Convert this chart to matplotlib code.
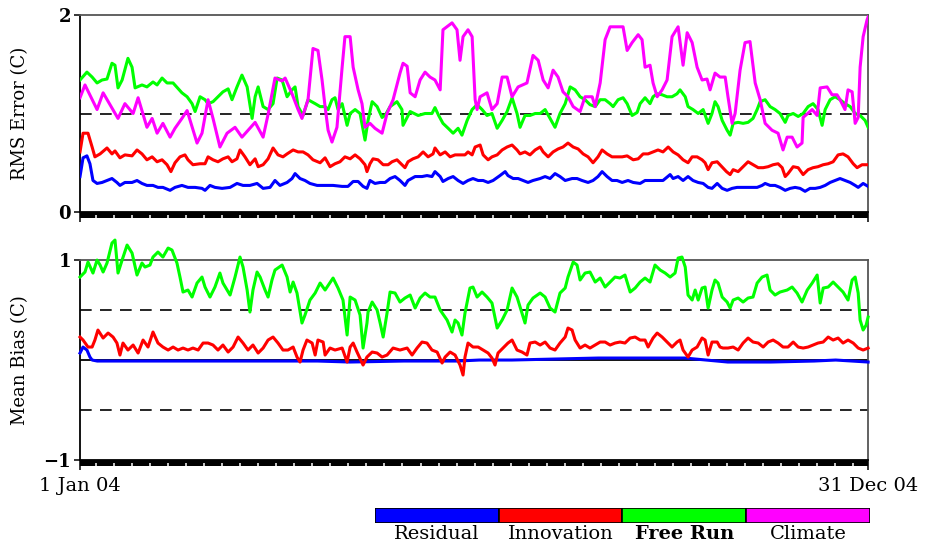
import numpy as np
import matplotlib
matplotlib.use("Agg")
import matplotlib.pyplot as plt

# ---- data (day of year 2004, 0 = 1 Jan, 365 = 31 Dec) ----
# RMS error, Climate
rms_clim_day = [0, 2.3, 7.9, 10.7, 17.6, 20.8, 24.6, 26.9, 31.0, 33.4, 35.7, 38.4, 41.7, 44.0, 47.2, 49.6,
                54.2, 56.5, 59.3, 61.6, 64.8, 68.1, 71.8, 75.0, 81.1, 84.8, 87.1, 90.3, 93.6, 95.0, 98.2,
                101.0, 102.8, 105.6, 107.9, 110.2, 112.1, 113.5, 114.9, 116.7, 119.0, 121.4, 122.7, 125.1,
                126.5, 128.8, 130.6, 132.0, 134.3, 136.6, 139.9, 142.2, 145.0, 148.2, 149.6, 151.5, 152.9,
                155.2, 157.5, 159.8, 162.1, 164.4, 166.8, 168.1, 172.3, 174.6, 176.0, 177.4, 179.7, 181.6,
                183.0, 183.9, 185.3, 188.5, 190.8, 193.2, 195.5, 197.8, 200.1, 202.9, 207.0, 209.8, 212.2,
                214.5, 216.8, 219.1, 221.4, 223.7, 226.0, 228.4, 231.6, 233.9, 237.2, 238.6, 240.9, 243.2,
                245.5, 251.5, 253.4, 255.7, 258.5, 260.3, 261.7, 264.0, 265.4, 267.3, 269.6, 271.9, 274.2,
                277.0, 279.3, 281.2, 283.5, 285.8, 288.1, 290.4, 291.8, 294.1, 296.4, 298.8, 300.1, 302.0,
                303.4, 305.7, 308.0, 310.3, 312.7, 315.0, 317.3, 320.5, 323.3, 325.6, 327.5, 329.8, 332.1,
                334.4, 334.9, 339.1, 341.4, 342.8, 346.0, 348.3, 350.6, 352.0, 354.3, 355.7, 357.6, 359.0,
                360.4, 361.3, 362.7, 364.5, 365]
rms_clim = [1.16, 1.29, 1.04, 1.21, 0.95, 1.10, 1.00, 1.16, 0.86, 0.95, 0.80, 0.90, 0.76, 0.85, 0.95, 1.03,
            0.70, 0.80, 1.14, 0.95, 0.66, 0.80, 0.86, 0.76, 0.91, 0.76, 0.99, 1.36, 1.33, 1.36, 1.20,
            1.04, 0.95, 1.14, 1.66, 1.64, 1.34, 1.07, 0.83, 0.71, 0.86, 1.47, 1.78, 1.78,
            1.47, 1.24, 1.10, 0.86, 0.90, 0.85, 0.80, 1.00, 1.14, 1.41, 1.51, 1.48, 1.21,
            1.17, 1.34, 1.42, 1.37, 1.34, 1.24, 1.85, 1.92, 1.85, 1.54, 1.78, 1.85, 1.78,
            1.14, 1.04, 1.17, 1.21, 1.04, 1.10, 1.37, 1.37, 1.17, 1.27, 1.31, 1.59, 1.54,
            1.34, 1.26, 1.44, 1.37, 1.22, 1.17, 1.07, 1.02, 1.17, 1.17, 1.07, 1.31, 1.75,
            1.88, 1.88, 1.64, 1.72, 1.80, 1.75, 1.47, 1.49, 1.31, 1.17, 1.24, 1.34, 1.78,
            1.88, 1.49, 1.82, 1.72, 1.47, 1.34, 1.35, 1.24, 1.41, 1.37, 1.37, 1.17, 0.90,
            1.00, 1.44, 1.72, 1.73, 1.31, 1.14, 0.90, 0.83, 0.80, 0.63, 0.76, 0.76, 0.66,
            0.70, 0.96, 1.04, 0.98, 1.26, 1.27, 1.19, 1.19, 1.14, 1.04, 1.24, 1.22, 0.90,
            0.96, 1.47, 1.78, 1.95, 1.98]

# RMS error, Free Run
rms_free_day = [0, 3.2, 5.6, 7.9, 10.2, 12.5, 14.8, 16.2, 17.6, 19.5, 22.2, 24.1, 25.5, 28.7, 31.0, 33.8,
                35.7, 38.0, 40.3, 43.1, 47.2, 49.6, 51.9, 53.3, 55.6, 57.9, 59.3, 61.6, 63.9, 66.2, 68.6,
                70.4, 72.7, 75.0, 77.4, 79.7, 81.1, 82.5, 84.8, 87.1, 89.4, 91.3, 93.6, 95.9, 98.2, 99.6,
                101.0, 103.3, 105.6, 108.9, 111.2, 113.5, 114.9, 116.7, 118.1, 119.5, 121.4, 123.7, 125.1,
                127.4, 129.7, 132.0, 133.4, 135.3, 137.6, 139.9, 141.3, 143.6, 146.8, 149.1, 149.6, 152.9,
                156.6, 159.8, 163.0, 164.4, 166.1, 168.1, 170.5, 172.8, 175.1, 176.9, 179.3, 181.6, 183.9,
                186.2, 188.5, 190.8, 193.2, 195.5, 197.8, 200.1, 202.4, 203.8, 206.1, 208.4, 210.8, 213.1,
                215.4, 217.7, 220.0, 222.3, 224.7, 227.0, 229.3, 231.6, 233.9, 236.2, 238.6, 240.9, 243.2,
                245.5, 246.9, 249.2, 251.5, 253.4, 255.7, 258.0, 259.4, 261.7, 264.0, 265.4, 267.3, 269.6,
                271.9, 274.2, 276.5, 277.9, 280.3, 281.6, 283.9, 286.3, 288.6, 290.9, 292.7, 294.1, 295.5,
                297.4, 299.7, 301.1, 302.5, 304.8, 307.1, 309.4, 311.7, 313.6, 315.0, 317.3, 319.6, 321.9,
                324.2, 326.6, 327.9, 330.3, 332.6, 334.9, 337.2, 339.5, 341.8, 343.7, 345.1, 347.4, 349.7,
                352.0, 354.3, 356.7, 359.0, 361.3, 363.6, 365]
rms_free = [1.34, 1.42, 1.37, 1.31, 1.34, 1.35, 1.51, 1.49, 1.26, 1.34, 1.56, 1.47, 1.26, 1.29, 1.27, 1.32,
            1.29, 1.36, 1.31, 1.31, 1.21, 1.17, 1.10, 1.02, 1.17, 1.14, 1.10, 1.12, 1.17, 1.22, 1.25,
            1.14, 1.27, 1.39, 1.27, 0.95, 1.17, 1.27, 1.07, 1.04, 1.10, 1.36, 1.34, 1.17, 1.24, 1.27,
            1.07, 0.98, 1.14, 1.10, 1.07, 1.07, 1.04, 1.14, 1.16, 1.04, 1.10, 0.88, 1.00,
            1.04, 1.00, 0.73, 0.93, 1.12, 1.07, 0.96, 0.98, 1.07, 1.12, 1.04, 0.88, 1.02,
            0.98, 1.00, 1.00, 1.06, 0.98, 0.90, 0.85, 0.80, 0.85, 0.78, 0.93, 1.04, 1.09,
            1.04, 0.98, 1.00, 0.85, 0.93, 1.02, 1.16, 1.00, 0.86, 0.98, 0.98, 1.00, 1.00,
            1.04, 0.95, 0.86, 1.00, 1.10, 1.27, 1.24, 1.17, 1.14, 1.09, 1.07, 1.14, 1.14,
            1.10, 1.07, 1.14, 1.16, 1.10, 0.98, 1.01, 1.10, 1.16, 1.10, 1.17, 1.20, 1.19,
            1.17, 1.17, 1.20, 1.24, 1.17, 1.07, 1.04, 1.00, 1.04, 0.90, 1.00, 1.12, 1.07,
            0.93, 0.83, 0.78, 0.90, 0.91, 0.90, 0.91, 0.95, 1.04, 1.12, 1.14, 1.07, 1.04,
            1.00, 0.91, 0.98, 1.00, 0.97, 1.00, 1.07, 1.10, 1.04, 0.88, 1.04, 1.14, 1.17,
            1.14, 1.10, 1.07, 1.00, 0.98, 0.93, 0.86]

# RMS error, Innovation
rms_innov_day = [0, 1.4, 3.7, 5.6, 6.9, 9.3, 12.5, 14.8, 16.2, 18.5, 20.8, 24.1, 26.4, 28.7, 31.0, 33.4,
                 35.7, 38.0, 40.3, 42.1, 44.0, 46.3, 48.6, 50.0, 52.3, 55.6, 57.9, 59.3, 61.6, 63.9, 66.2,
                 68.6, 70.4, 72.7, 74.1, 76.4, 78.7, 81.1, 82.5, 84.8, 87.1, 89.4, 91.7, 94.0, 95.9, 98.7,
                 101.0, 103.3, 105.6, 107.9, 111.2, 113.5, 115.8, 118.1, 120.4, 122.7, 125.1, 127.4, 129.7,
                 132.0, 132.9, 134.3, 135.7, 138.0, 140.4, 142.7, 144.5, 146.8, 149.1, 150.5, 151.9, 154.2,
                 156.6, 158.9, 161.2, 163.5, 164.4, 166.8, 169.1, 171.4, 173.7, 176.0, 178.3, 179.7, 181.6,
                 183.0, 185.3, 186.7, 189.0, 190.8, 193.2, 195.5, 197.8, 200.1, 202.4, 203.8, 206.1, 208.4,
                 210.8, 213.1, 214.5, 216.8, 219.1, 221.4, 223.7, 226.0, 228.4, 230.7, 233.0, 235.3, 237.6,
                 239.9, 241.8, 244.1, 246.4, 248.7, 251.1, 253.4, 256.2, 258.5, 260.8, 263.1, 265.4, 267.7,
                 270.0, 272.4, 274.7, 277.0, 279.3, 281.6, 283.5, 285.8, 288.1, 289.5, 290.9, 292.7, 295.1,
                 296.4, 299.4, 301.1, 302.5, 304.8, 307.1, 309.4, 311.7, 314.1, 316.4, 318.7, 321.0, 323.3,
                 325.2, 326.6, 327.9, 330.3, 332.6, 334.9, 337.2, 339.5, 341.8, 344.2, 346.5, 348.8, 351.1,
                 353.4, 355.7, 358.1, 359.9, 362.2, 365]
rms_innov = [0.61, 0.80, 0.80, 0.66, 0.56, 0.59, 0.65, 0.59, 0.62, 0.55, 0.58, 0.57, 0.63, 0.59, 0.53, 0.56,
             0.51, 0.53, 0.48, 0.41, 0.50, 0.56, 0.58, 0.53, 0.48, 0.49, 0.49, 0.56, 0.53, 0.51, 0.54,
             0.56, 0.51, 0.54, 0.63, 0.56, 0.48, 0.54, 0.46, 0.48, 0.54, 0.65, 0.58, 0.56, 0.59, 0.63,
             0.61, 0.61, 0.58, 0.53, 0.50, 0.55, 0.46, 0.49, 0.51, 0.56, 0.54, 0.58, 0.54,
             0.48, 0.41, 0.49, 0.54, 0.53, 0.48, 0.48, 0.51, 0.53, 0.48, 0.45, 0.51, 0.54,
             0.56, 0.61, 0.56, 0.59, 0.65, 0.58, 0.61, 0.56, 0.58, 0.58, 0.58, 0.61, 0.58,
             0.66, 0.68, 0.58, 0.53, 0.56, 0.58, 0.63, 0.66, 0.68, 0.63, 0.59, 0.61, 0.58,
             0.63, 0.66, 0.61, 0.56, 0.61, 0.64, 0.66, 0.70, 0.66, 0.64, 0.59, 0.56, 0.50,
             0.56, 0.63, 0.59, 0.56, 0.56, 0.56, 0.57, 0.53, 0.54, 0.59, 0.59, 0.61, 0.63,
             0.61, 0.66, 0.61, 0.58, 0.53, 0.50, 0.56, 0.56, 0.53, 0.50, 0.43, 0.50, 0.51,
             0.48, 0.41, 0.38, 0.43, 0.41, 0.46, 0.51, 0.48, 0.45, 0.45, 0.46, 0.48, 0.49,
             0.45, 0.36, 0.39, 0.46, 0.45, 0.38, 0.43, 0.45, 0.46, 0.48, 0.49, 0.51, 0.58,
             0.59, 0.56, 0.49, 0.45, 0.48, 0.48]

# RMS error, Residual
rms_resid_day = [0, 1.4, 3.2, 4.6, 6.0, 7.9, 10.2, 12.5, 14.8, 17.1, 18.5, 20.8, 24.1, 26.4, 28.7, 31.0,
                 33.8, 36.1, 38.4, 41.7, 44.0, 47.2, 50.0, 53.3, 56.5, 57.9, 60.2, 62.5, 65.8, 69.5, 72.7,
                 75.5, 78.7, 82.0, 84.8, 88.0, 90.3, 92.6, 95.9, 98.2, 99.6, 101.9, 104.2, 106.5, 109.8,
                 113.5, 117.2, 121.4, 124.1, 126.5, 128.8, 131.1, 132.9, 134.3, 136.6, 139.0, 141.3, 143.6,
                 145.9, 148.2, 150.5, 151.9, 155.2, 158.4, 160.7, 163.0, 164.4, 166.8, 168.1, 170.5, 172.8,
                 175.1, 177.4, 179.7, 182.0, 184.4, 186.7, 189.0, 191.3, 194.5, 196.9, 198.2, 200.6, 202.9,
                 205.2, 207.5, 209.8, 213.1, 215.4, 217.7, 220.0, 222.3, 224.7, 227.9, 230.2, 232.5, 235.3,
                 237.6, 239.9, 241.8, 244.1, 246.4, 248.7, 251.1, 253.8, 256.2, 259.4, 261.7, 266.3, 270.0,
                 273.3, 274.7, 277.0, 279.3, 281.6, 283.9, 286.3, 288.6, 290.9, 292.7, 295.1, 297.4, 299.7,
                 302.0, 304.3, 306.6, 309.0, 311.3, 313.6, 315.9, 317.3, 319.6, 321.9, 324.2, 326.6, 328.9,
                 331.2, 333.5, 335.8, 338.1, 340.5, 342.8, 345.1, 347.4, 349.7, 352.0, 354.3, 356.7, 359.0,
                 360.4, 362.7, 365]
rms_resid = [0.36, 0.55, 0.57, 0.49, 0.32, 0.29, 0.30, 0.32, 0.34, 0.30, 0.27, 0.30, 0.30, 0.32, 0.29, 0.27,
             0.27, 0.25, 0.25, 0.22, 0.25, 0.27, 0.25, 0.25, 0.24, 0.22, 0.27, 0.25, 0.24, 0.25, 0.29,
             0.27, 0.27, 0.29, 0.24, 0.25, 0.32, 0.27, 0.30, 0.34, 0.39, 0.34, 0.32, 0.29, 0.27,
             0.27, 0.27, 0.26, 0.26, 0.31, 0.31, 0.26, 0.24, 0.32, 0.29, 0.30, 0.30, 0.34,
             0.36, 0.32, 0.27, 0.32, 0.36, 0.36, 0.37, 0.36, 0.41, 0.36, 0.31, 0.34, 0.36,
             0.32, 0.29, 0.32, 0.34, 0.32, 0.32, 0.30, 0.32, 0.37, 0.41, 0.37, 0.34, 0.34,
             0.32, 0.30, 0.32, 0.34, 0.36, 0.34, 0.39, 0.36, 0.32, 0.34, 0.34, 0.32, 0.30,
             0.32, 0.36, 0.41, 0.36, 0.32, 0.32, 0.30, 0.32, 0.30, 0.29, 0.32, 0.32, 0.32,
             0.38, 0.34, 0.36, 0.32, 0.36, 0.32, 0.30, 0.29, 0.25, 0.24, 0.29, 0.24, 0.22,
             0.24, 0.25, 0.25, 0.25, 0.25, 0.25, 0.27, 0.29, 0.27, 0.27, 0.25, 0.22, 0.24,
             0.25, 0.24, 0.21, 0.24, 0.24, 0.25, 0.27, 0.30, 0.32, 0.34, 0.32, 0.30, 0.27,
             0.25, 0.29, 0.26]

# Mean bias, Free Run
bias_free_day = [0, 2.3, 3.7, 6.0, 7.9, 9.3, 10.7, 12.5, 14.8, 16.2, 17.6, 19.5, 21.8, 24.1, 26.4, 28.7,
                 30.1, 32.4, 33.8, 36.1, 38.4, 40.8, 42.6, 44.9, 46.3, 47.7, 50.0, 51.9, 54.2, 56.5, 57.9,
                 60.2, 62.5, 64.8, 66.2, 69.5, 71.8, 74.1, 75.5, 77.4, 78.7, 80.1, 82.0, 83.4, 85.7, 87.1,
                 88.9, 90.3, 93.6, 95.9, 97.3, 98.7, 100.5, 102.8, 104.2, 106.5, 108.9, 111.2, 113.5, 117.2,
                 119.5, 121.8, 123.7, 125.1, 127.4, 129.7, 131.1, 132.9, 133.4, 135.3, 137.6, 139.0, 140.4,
                 142.2, 143.6, 145.9, 148.2, 150.5, 152.9, 155.2, 157.5, 159.8, 162.1, 164.4, 166.8, 170.0,
                 172.3, 173.7, 175.1, 176.9, 178.3, 180.6, 182.0, 183.9, 186.2, 188.5, 190.8, 193.2, 195.5,
                 197.8, 200.1, 202.4, 204.7, 206.1, 207.5, 209.8, 213.1, 215.4, 217.7, 220.0, 222.3, 224.7,
                 226.0, 228.4, 230.2, 231.6, 233.9, 236.2, 238.6, 240.9, 243.2, 245.5, 247.8, 250.1, 252.4,
                 254.8, 257.1, 259.4, 261.7, 264.0, 266.3, 268.7, 271.0, 273.3, 275.6, 277.0, 278.8, 280.3,
                 281.6, 283.5, 284.9, 286.3, 288.1, 289.5, 290.9, 292.7, 294.1, 295.5, 297.4, 299.7, 301.1,
                 302.5, 304.8, 307.1, 309.4, 311.7, 313.6, 315.9, 318.2, 319.6, 321.9, 324.2, 327.5, 329.8,
                 332.1, 334.4, 336.8, 339.1, 341.4, 342.8, 344.2, 346.5, 348.8, 351.1, 353.4, 355.7, 357.6,
                 359.0, 360.4, 361.3, 362.7, 364.1, 365]
bias_free = [0.83, 0.88, 0.98, 0.87, 1.00, 0.95, 0.88, 0.97, 1.17, 1.20, 0.87, 1.00, 1.15, 1.07, 0.85, 0.97,
             0.93, 0.95, 1.03, 1.08, 1.03, 1.12, 1.10, 0.97, 0.83, 0.68, 0.70, 0.63, 0.77, 0.83, 0.73,
             0.63, 0.73, 0.87, 0.77, 0.65, 0.83, 1.03, 0.93, 0.70, 0.48, 0.70, 0.88, 0.83, 0.70, 0.63,
             0.80, 0.90, 0.95, 0.83, 0.68, 0.78, 0.67, 0.37, 0.45, 0.60, 0.67, 0.77, 0.70, 0.82,
             0.72, 0.60, 0.25, 0.63, 0.60, 0.45, 0.12, 0.37, 0.48, 0.58, 0.50, 0.37, 0.23,
             0.47, 0.68, 0.67, 0.58, 0.62, 0.65, 0.52, 0.62, 0.67, 0.63, 0.63, 0.50, 0.40,
             0.28, 0.40, 0.37, 0.25, 0.47, 0.72, 0.73, 0.63, 0.68, 0.63, 0.57, 0.32, 0.40,
             0.50, 0.72, 0.63, 0.47, 0.37, 0.55, 0.62, 0.67, 0.63, 0.52, 0.48, 0.67, 0.72,
             0.83, 0.98, 0.95, 0.80, 0.87, 0.88, 0.78, 0.82, 0.73, 0.78, 0.83, 0.82, 0.85,
             0.68, 0.72, 0.78, 0.82, 0.78, 0.95, 0.90, 0.87, 0.83, 0.87, 1.02, 1.03, 0.93,
             0.65, 0.60, 0.70, 0.60, 0.72, 0.73, 0.52, 0.70, 0.80, 0.77, 0.63, 0.58, 0.52,
             0.60, 0.62, 0.58, 0.62, 0.63, 0.77, 0.83, 0.85, 0.70, 0.65, 0.68, 0.70, 0.73,
             0.67, 0.58, 0.70, 0.77, 0.85, 0.57, 0.72, 0.73, 0.78, 0.73, 0.68, 0.60, 0.80,
             0.83, 0.67, 0.40, 0.30, 0.35, 0.43]

# Mean bias, Innovation
bias_innov_day = [0, 1.4, 3.7, 5.6, 6.9, 8.3, 10.7, 13.0, 15.3, 17.1, 18.5, 19.9, 22.2, 24.6, 26.9, 29.2,
                  31.5, 33.8, 36.1, 38.4, 40.8, 43.1, 45.4, 47.7, 50.0, 52.3, 54.7, 57.0, 59.3, 61.6, 63.9,
                  66.2, 68.6, 70.9, 73.2, 75.5, 77.8, 80.1, 82.5, 84.8, 87.1, 89.4, 91.7, 94.0, 96.3, 98.7,
                  100.5, 101.9, 103.3, 105.1, 107.5, 108.9, 110.2, 112.6, 113.5, 115.8, 118.1, 121.4, 123.7,
                  125.1, 126.5, 128.3, 131.1, 132.9, 135.3, 137.6, 139.9, 142.2, 145.0, 148.2, 151.5, 153.8,
                  156.1, 158.4, 160.7, 163.0, 165.4, 167.7, 169.1, 171.4, 173.7, 176.0, 177.4, 178.3, 179.7,
                  182.0, 184.4, 186.7, 189.0, 190.8, 192.2, 193.6, 195.9, 198.2, 200.1, 202.4, 204.7, 207.0,
                  208.4, 210.8, 213.1, 215.4, 217.7, 220.0, 222.3, 224.7, 226.0, 227.9, 229.3, 231.6, 233.9,
                  236.2, 238.6, 240.9, 243.2, 245.5, 247.8, 250.1, 252.4, 254.8, 257.1, 259.4, 261.7, 263.1,
                  265.4, 267.3, 269.6, 271.9, 274.2, 276.5, 277.9, 279.3, 281.6, 283.5, 285.8, 288.1, 289.5,
                  290.9, 292.7, 295.1, 296.4, 297.8, 300.1, 302.5, 304.8, 307.1, 309.4, 311.7, 314.1, 316.4,
                  318.7, 321.0, 323.3, 325.6, 327.9, 330.3, 332.6, 334.9, 337.2, 339.5, 341.8, 344.2, 346.5,
                  348.8, 351.1, 353.4, 355.7, 358.1, 360.4, 362.7, 365]
bias_innov = [0.23, 0.20, 0.13, 0.13, 0.20, 0.30, 0.22, 0.27, 0.23, 0.17, 0.05, 0.17, 0.10, 0.15, 0.07, 0.20,
              0.13, 0.28, 0.17, 0.13, 0.10, 0.13, 0.10, 0.12, 0.10, 0.12, 0.10, 0.17, 0.17, 0.15, 0.10,
              0.15, 0.08, 0.13, 0.23, 0.17, 0.10, 0.15, 0.07, 0.12, 0.20, 0.23, 0.17, 0.10, 0.10, 0.13,
              0.03, -0.02, 0.10, 0.20, 0.17, 0.05, 0.20, 0.18, 0.05, 0.12, 0.10, 0.12, -0.02,
              0.13, 0.17, 0.08, -0.05, 0.03, 0.08, 0.07, 0.03, 0.05, 0.12, 0.10, 0.12, 0.05,
              0.12, 0.18, 0.17, 0.10, 0.08, -0.03, 0.03, 0.08, 0.05, -0.05, -0.15, 0.03, 0.17,
              0.13, 0.13, 0.10, 0.07, 0.02, -0.05, 0.07, 0.12, 0.17, 0.20, 0.10, 0.08, 0.05,
              0.17, 0.18, 0.15, 0.18, 0.12, 0.10, 0.17, 0.23, 0.32, 0.30, 0.20, 0.12, 0.15,
              0.12, 0.15, 0.18, 0.18, 0.15, 0.17, 0.18, 0.17, 0.22, 0.23, 0.20, 0.20, 0.13,
              0.22, 0.27, 0.23, 0.18, 0.13, 0.18, 0.20, 0.10, 0.03, 0.10, 0.13, 0.22, 0.20,
              0.05, 0.18, 0.18, 0.13, 0.12, 0.12, 0.13, 0.10, 0.17, 0.22, 0.18, 0.17, 0.13,
              0.18, 0.20, 0.17, 0.13, 0.13, 0.18, 0.13, 0.12, 0.13, 0.15, 0.17, 0.18, 0.23,
              0.20, 0.22, 0.17, 0.20, 0.17, 0.12, 0.10, 0.12]

# Mean bias, Residual
bias_resid_day = [0, 1.4, 3.2, 4.6, 5.6, 8, 30, 60, 90, 110, 125, 150, 175, 185, 200, 220, 240, 260, 280,
                  290, 300, 320, 340, 350, 365]
bias_resid = [0.07, 0.13, 0.10, 0.03, 0.00, -0.01, -0.01, -0.01, -0.01, -0.01, -0.02, -0.01, -0.01, 0.00,
              0.00, 0.01, 0.02, 0.02, 0.02, 0.00, -0.02, -0.02, -0.01, 0.00, -0.02]

legend_names = ["Residual", "Innovation", "Free Run", "Climate"]
legend_colors = ["#0000ff", "#ff0000", "#00ff00", "#ff00ff"]

# ---- figure ----
FONT = "DejaVu Serif"
fig = plt.figure(figsize=(9.25, 5.47), dpi=100)
ax1 = fig.add_axes([0.0865, 0.6124, 0.852, 0.3602])
ax2 = fig.add_axes([0.0865, 0.1590, 0.852, 0.3656])

ndays = 366
notch_days = np.arange(7.4, ndays - 2, 8.35)

def style(ax):
    ax.set_xlim(0, 365)
    for s in ["top", "right"]:
        ax.spines[s].set_color("#555555")
    for s in ax.spines.values():
        s.set_linewidth(1.3)
    ax.set_xticks([0, 365])
    ax.set_xticks(range(ndays), minor=True)
    ax.tick_params(axis="x", which="minor", direction="out", length=4.6, width=3.0, color="black")
    ax.tick_params(axis="x", which="major", direction="out", length=7.5, width=1.1, color="black", pad=5)
    ax.tick_params(axis="y", which="major", direction="out", length=4.5, width=1.1, pad=2)
    for lab in ax.get_yticklabels():
        lab.set_fontfamily(FONT)
        lab.set_fontweight("bold")
        lab.set_fontsize(13)
    for lab in ax.get_xticklabels():
        lab.set_fontfamily(FONT)
        lab.set_fontsize(14)
    # white notches cut into the daily tick band
    hpx = ax.get_position().height * fig.get_figheight() * fig.dpi
    ax.vlines(notch_days, -2.5 / hpx, -7.0 / hpx, color="white", lw=1.1,
              transform=ax.get_xaxis_transform(), clip_on=False, zorder=5)

# top: RMS error
ax1.axhline(1.0, color="black", lw=1.2, ls=(0, (7, 5)), zorder=1)
ax1.plot(rms_resid_day, rms_resid, color=legend_colors[0], lw=2.2, zorder=3)
ax1.plot(rms_innov_day, rms_innov, color=legend_colors[1], lw=2.2, zorder=3)
ax1.plot(rms_free_day, rms_free, color=legend_colors[2], lw=2.2, zorder=3)
ax1.plot(rms_clim_day, rms_clim, color=legend_colors[3], lw=2.2, zorder=3)
ax1.set_ylim(0, 2)
ax1.set_yticks([0, 2])
ax1.set_yticklabels(["0", "2"])
ax1.set_xticklabels(["", ""])
style(ax1)
ax1.set_ylabel("RMS Error (C)", fontfamily=FONT, fontsize=13)
ax1.yaxis.set_label_coords(-0.064, 0.5)

# bottom: mean bias
ax2.axhline(0.0, color="black", lw=1.3, zorder=1)
ax2.axhline(0.5, color="black", lw=1.2, ls=(0, (7, 5)), zorder=1)
ax2.axhline(-0.5, color="black", lw=1.2, ls=(0, (7, 5)), zorder=1)
ax2.plot(bias_resid_day, bias_resid, color=legend_colors[0], lw=2.2, zorder=3, clip_on=False)
ax2.plot(bias_innov_day, bias_innov, color=legend_colors[1], lw=2.2, zorder=3, clip_on=False)
ax2.plot(bias_free_day, bias_free, color=legend_colors[2], lw=2.2, zorder=3, clip_on=False)
ax2.set_ylim(-1, 1)
ax2.set_yticks([-1, 1])
ax2.set_yticklabels(["\u22121", "1"])
ax2.set_xticklabels(["1 Jan 04", "31 Dec 04"])
style(ax2)
ax2.set_ylabel("Mean Bias (C)", fontfamily=FONT, fontsize=13)
ax2.yaxis.set_label_coords(-0.064, 0.5)

# colour-bar style legend
axl = fig.add_axes([0.4054, 0.0439, 0.5351, 0.0274])
axl.barh([0] * 4, [1] * 4, left=range(4), height=1, color=legend_colors,
         edgecolor="black", linewidth=1.2)
axl.set_xlim(0, 4)
axl.set_ylim(-0.5, 0.5)
axl.axis("off")
for i, name in enumerate(legend_names):
    axl.text(i + 0.5, -0.62, name, ha="center", va="top", fontfamily=FONT, fontsize=14,
             fontweight="bold" if name == "Free Run" else "normal")

fig.savefig("out.png", dpi=100)
